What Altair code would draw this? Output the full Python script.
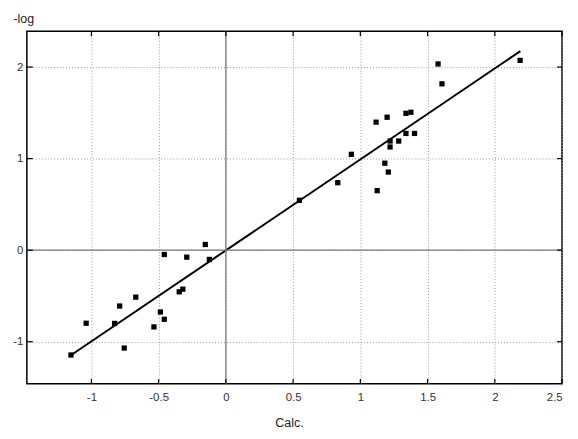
import altair as alt
import pandas as pd

# observed points (Calc. vs -log)
x_obs = [-1.152, -1.039, -0.827, -0.790, -0.756, -0.670, -0.535, -0.487, -0.458, -0.458,
         -0.347, -0.320, -0.291, -0.153, -0.123, 0.547, 0.832, 0.933, 1.125, 1.117,
         1.182, 1.208, 1.199, 1.221, 1.221, 1.285, 1.339, 1.339, 1.376, 1.403,
         1.578, 1.607, 2.188]
y_obs = [-1.145, -0.798, -0.800, -0.610, -1.069, -0.513, -0.838, -0.675, -0.755, -0.047,
         -0.455, -0.426, -0.076, 0.062, -0.101, 0.545, 0.737, 1.047, 0.650, 1.398,
         0.950, 0.853, 1.452, 1.192, 1.127, 1.192, 1.275, 1.495, 1.506, 1.275,
         2.034, 1.817, 2.073]

# fitted line end points
fit_x = [-1.15, 2.19]
fit_y = [-1.145, 2.174]

x_ticks = [-1, -0.5, 0, 0.5, 1, 1.5, 2, 2.5]
y_ticks = [-1, 0, 1, 2]

x_domain = [-1.48, 2.5]
y_domain = [-1.46, 2.39]

W, H = 539, 355
FONT = "Liberation Sans"

pts = pd.DataFrame({"x": x_obs, "y": y_obs})
fit = pd.DataFrame({"x": fit_x, "y": fit_y})
xt = pd.DataFrame({"x": x_ticks})
yt = pd.DataFrame({"y": y_ticks})

xs = alt.Scale(domain=x_domain, nice=False, zero=False)
ys = alt.Scale(domain=y_domain, nice=False, zero=False)

LABEL_EXPR = "datum.value < 0 ? '-' + format(-datum.value, '') : format(datum.value, '')"

grid_axis_common = dict(
    grid=True, gridColor="#9a9a9a", gridDash=[1, 2], gridWidth=1,
    domain=False, ticks=False, labelFont=FONT, labelFontSize=11.5,
    labelColor="#333333", titleFont=FONT, titleFontSize=12.5,
    titleFontWeight="normal", titleColor="#222222", labelExpr=LABEL_EXPR,
)

x_axis = alt.Axis(values=x_ticks, labelPadding=8, title="Calc.",
                  titleAngle=0, titleX=264, titleY=43, titleBaseline="alphabetic",
                  titleAlign="center", **grid_axis_common)
y_axis = alt.Axis(values=y_ticks, labelPadding=4, title="-log",
                  titleAngle=0, titleX=-14, titleY=-9, titleAlign="left",
                  titleBaseline="alphabetic", **grid_axis_common)


def X(f="x"):
    return alt.X(f"{f}:Q", scale=xs, axis=x_axis)


def Y(f="y"):
    return alt.Y(f"{f}:Q", scale=ys, axis=y_axis)


points = alt.Chart(pts).mark_square(size=28, color="black", opacity=1).encode(x=X(), y=Y())

line = alt.Chart(fit).mark_line(color="black", strokeWidth=2).encode(x=X(), y=Y())

zero_v = alt.Chart(pd.DataFrame({"x": [0]})).mark_rule(color="#7a7a7a", strokeWidth=1.3).encode(x=X())
zero_h = alt.Chart(pd.DataFrame({"y": [0]})).mark_rule(color="#7a7a7a", strokeWidth=1.3).encode(y=Y())

tick_style = dict(color="black", strokeWidth=1.2)
top_ticks = alt.Chart(xt).mark_rule(**tick_style).encode(
    x=X(), y=alt.value(0), y2=alt.value(5))
bot_ticks = alt.Chart(xt).mark_rule(**tick_style).encode(
    x=X(), y=alt.value(H), y2=alt.value(H - 5))
left_ticks = alt.Chart(yt).mark_rule(**tick_style).encode(
    y=Y(), x=alt.value(0), x2=alt.value(6))
right_ticks = alt.Chart(yt).mark_rule(**tick_style).encode(
    y=Y(), x=alt.value(W), x2=alt.value(W - 5))

chart = alt.layer(
    points, line, zero_v, zero_h, top_ticks, bot_ticks, left_ticks, right_ticks
).properties(
    width=W, height=H,
    autosize=alt.AutoSizeParams(type="none"),
    padding={"left": 19, "top": 22, "right": 8, "bottom": 50},
    background="white",
).configure_view(
    stroke="black", strokeWidth=1.5
)

chart.save("out.html", embed_options={"renderer": "svg", "actions": False})
